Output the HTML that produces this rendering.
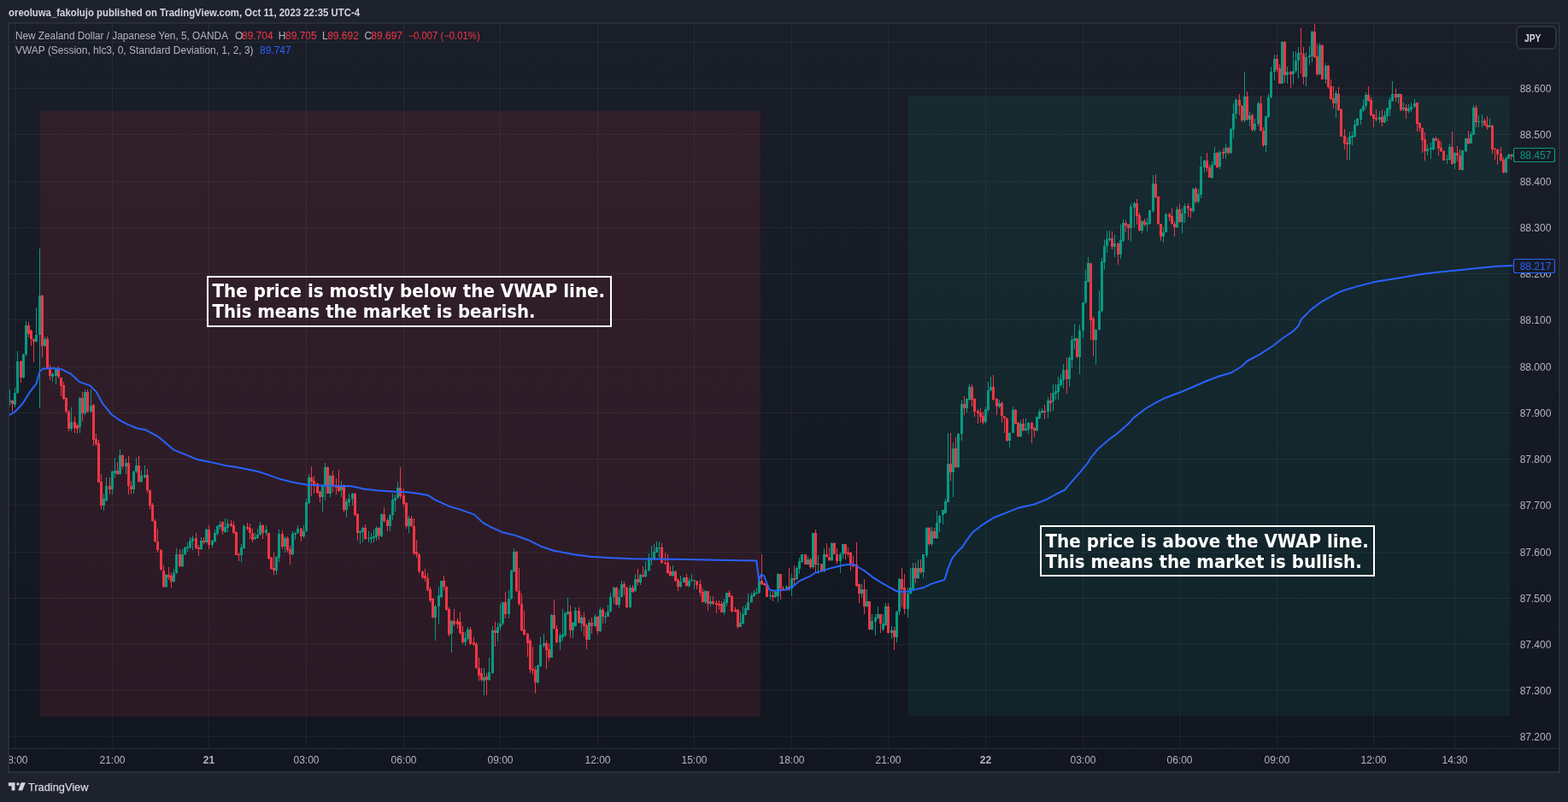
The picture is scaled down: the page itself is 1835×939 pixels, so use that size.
<!DOCTYPE html>
<html><head><meta charset="utf-8"><title>NZDJPY VWAP</title>
<style>
html,body{margin:0;padding:0;background:#1e222d;width:1835px;height:939px;overflow:hidden}
svg{position:absolute;left:0;top:0;display:block}
text{font-family:"Liberation Sans","DejaVu Sans",sans-serif}
</style></head><body>
<svg width="1835" height="939" viewBox="0 0 1835 939">

<text x="10" y="19.3" font-size="12.6" font-weight="bold" fill="#d1d4dc" textLength="411" lengthAdjust="spacingAndGlyphs">oreoluwa_fakolujo published on TradingView.com, Oct 11, 2023 22:35 UTC-4</text>
<defs><linearGradient id="bgg" x1="0" y1="28" x2="0" y2="903" gradientUnits="userSpaceOnUse"><stop offset="0" stop-color="#1a1e29"/><stop offset="1" stop-color="#121620"/></linearGradient></defs>
<rect x="9" y="26" width="1817" height="879" fill="#2a2e39"/>
<rect x="11" y="28" width="1813" height="875" fill="url(#bgg)"/>
<rect x="11" y="103" width="1760" height="1" fill="rgba(242,242,242,0.06)"/>
<rect x="11" y="157" width="1760" height="1" fill="rgba(242,242,242,0.06)"/>
<rect x="11" y="212" width="1760" height="1" fill="rgba(242,242,242,0.06)"/>
<rect x="11" y="266" width="1760" height="1" fill="rgba(242,242,242,0.06)"/>
<rect x="11" y="320" width="1760" height="1" fill="rgba(242,242,242,0.06)"/>
<rect x="11" y="374" width="1760" height="1" fill="rgba(242,242,242,0.06)"/>
<rect x="11" y="429" width="1760" height="1" fill="rgba(242,242,242,0.06)"/>
<rect x="11" y="483" width="1760" height="1" fill="rgba(242,242,242,0.06)"/>
<rect x="11" y="537" width="1760" height="1" fill="rgba(242,242,242,0.06)"/>
<rect x="11" y="591" width="1760" height="1" fill="rgba(242,242,242,0.06)"/>
<rect x="11" y="646" width="1760" height="1" fill="rgba(242,242,242,0.06)"/>
<rect x="11" y="700" width="1760" height="1" fill="rgba(242,242,242,0.06)"/>
<rect x="11" y="754" width="1760" height="1" fill="rgba(242,242,242,0.06)"/>
<rect x="11" y="808" width="1760" height="1" fill="rgba(242,242,242,0.06)"/>
<rect x="11" y="862" width="1760" height="1" fill="rgba(242,242,242,0.06)"/>
<rect x="11" y="49" width="1760" height="1" fill="rgba(242,242,242,0.06)"/>
<rect x="17" y="28" width="1" height="848" fill="rgba(242,242,242,0.06)"/>
<rect x="131" y="28" width="1" height="848" fill="rgba(242,242,242,0.06)"/>
<rect x="244" y="28" width="1" height="848" fill="rgba(242,242,242,0.06)"/>
<rect x="358" y="28" width="1" height="848" fill="rgba(242,242,242,0.06)"/>
<rect x="472" y="28" width="1" height="848" fill="rgba(242,242,242,0.06)"/>
<rect x="585" y="28" width="1" height="848" fill="rgba(242,242,242,0.06)"/>
<rect x="699" y="28" width="1" height="848" fill="rgba(242,242,242,0.06)"/>
<rect x="812" y="28" width="1" height="848" fill="rgba(242,242,242,0.06)"/>
<rect x="926" y="28" width="1" height="848" fill="rgba(242,242,242,0.06)"/>
<rect x="1039" y="28" width="1" height="848" fill="rgba(242,242,242,0.06)"/>
<rect x="1153" y="28" width="1" height="848" fill="rgba(242,242,242,0.06)"/>
<rect x="1267" y="28" width="1" height="848" fill="rgba(242,242,242,0.06)"/>
<rect x="1380" y="28" width="1" height="848" fill="rgba(242,242,242,0.06)"/>
<rect x="1494" y="28" width="1" height="848" fill="rgba(242,242,242,0.06)"/>
<rect x="1607" y="28" width="1" height="848" fill="rgba(242,242,242,0.06)"/>
<rect x="1702" y="28" width="1" height="848" fill="rgba(242,242,242,0.06)"/>
<rect x="11" y="876" width="1760" height="1" fill="#2a2e39"/>
<rect x="1772" y="876" width="52" height="1" fill="#2a2e39"/>
<rect x="47" y="130" width="843" height="709" fill="rgba(242,54,69,0.11)"/>
<rect x="1063" y="112" width="704" height="726" fill="rgba(8,153,129,0.10)"/>
<clipPath id="pclip"><rect x="11" y="28" width="1760" height="848"/></clipPath><g clip-path="url(#pclip)">
<path d="M11 456h1v19h-1zM17 454h1v23h-1zM20 411h1v50h-1zM27 414h1v29h-1zM30 376h1v41h-1zM42 360h1v41h-1zM46 291h1v187h-1zM52 394h1v12h-1zM61 436h1v11h-1zM65 431h1v19h-1zM83 477h1v28h-1zM93 465h1v42h-1zM99 456h1v30h-1zM106 456h1v27h-1zM121 578h1v20h-1zM124 559h1v28h-1zM131 551h1v28h-1zM134 536h1v23h-1zM140 526h1v30h-1zM147 537h1v18h-1zM156 551h1v27h-1zM159 536h1v18h-1zM165 551h1v14h-1zM169 545h1v15h-1zM194 672h1v16h-1zM203 666h1v16h-1zM206 642h1v30h-1zM213 643h1v21h-1zM216 640h1v10h-1zM219 635h1v11h-1zM222 629h1v14h-1zM225 627h1v17h-1zM235 629h1v15h-1zM241 618h1v18h-1zM248 632h1v9h-1zM251 620h1v15h-1zM254 615h1v12h-1zM257 610h1v10h-1zM263 607h1v17h-1zM266 608h1v15h-1zM282 637h1v21h-1zM285 614h1v29h-1zM298 624h1v8h-1zM301 619h1v12h-1zM304 611h1v16h-1zM311 615h1v12h-1zM323 651h1v22h-1zM326 620h1v38h-1zM333 628h1v19h-1zM342 622h1v28h-1zM345 623h1v9h-1zM348 615h1v10h-1zM355 615h1v15h-1zM358 584h1v39h-1zM361 555h1v35h-1zM377 567h1v32h-1zM380 542h1v44h-1zM386 556h1v26h-1zM399 563h1v19h-1zM405 584h1v22h-1zM408 578h1v15h-1zM412 577h1v15h-1zM421 621h1v16h-1zM424 617h1v18h-1zM431 622h1v13h-1zM434 624h1v12h-1zM437 620h1v15h-1zM440 616h1v17h-1zM446 601h1v28h-1zM456 602h1v20h-1zM459 578h1v31h-1zM462 579h1v20h-1zM465 564h1v20h-1zM478 604h1v20h-1zM509 708h1v42h-1zM513 687h1v44h-1zM516 680h1v20h-1zM528 726h1v38h-1zM544 740h1v16h-1zM547 734h1v16h-1zM566 782h1v32h-1zM572 770h1v27h-1zM576 733h1v56h-1zM582 729h1v22h-1zM585 707h1v31h-1zM588 705h1v27h-1zM595 691h1v33h-1zM598 667h1v35h-1zM601 642h1v28h-1zM629 778h1v23h-1zM632 746h1v35h-1zM636 742h1v16h-1zM645 719h1v51h-1zM655 741h1v20h-1zM658 713h1v37h-1zM661 716h1v30h-1zM664 700h1v20h-1zM670 728h1v19h-1zM673 711h1v23h-1zM680 720h1v19h-1zM689 726h1v23h-1zM696 719h1v15h-1zM702 711h1v29h-1zM708 717h1v13h-1zM711 708h1v14h-1zM714 694h1v23h-1zM718 687h1v20h-1zM724 690h1v22h-1zM727 680h1v19h-1zM737 685h1v27h-1zM743 672h1v21h-1zM749 672h1v13h-1zM755 657h1v19h-1zM759 648h1v21h-1zM762 639h1v23h-1zM765 637h1v19h-1zM768 634h1v13h-1zM771 634h1v19h-1zM787 662h1v13h-1zM796 674h1v14h-1zM800 676h1v6h-1zM806 677h1v11h-1zM809 672h1v9h-1zM812 679h1v11h-1zM825 691h1v16h-1zM831 698h1v12h-1zM847 701h1v19h-1zM850 694h1v16h-1zM866 716h1v18h-1zM869 710h1v21h-1zM872 708h1v12h-1zM875 695h1v20h-1zM879 694h1v12h-1zM882 691h1v8h-1zM885 688h1v8h-1zM888 679h1v16h-1zM901 692h1v10h-1zM907 692h1v8h-1zM910 671h1v34h-1zM920 685h1v5h-1zM926 671h1v27h-1zM932 663h1v16h-1zM935 653h1v19h-1zM938 649h1v10h-1zM945 651h1v10h-1zM951 624h1v42h-1zM957 650h1v22h-1zM964 642h1v28h-1zM973 635h1v22h-1zM983 647h1v24h-1zM986 637h1v17h-1zM1008 684h1v16h-1zM1014 690h1v21h-1zM1020 719h1v19h-1zM1024 719h1v25h-1zM1027 710h1v15h-1zM1033 719h1v20h-1zM1036 706h1v27h-1zM1043 733h1v15h-1zM1049 715h1v37h-1zM1052 677h1v43h-1zM1062 688h1v35h-1zM1065 665h1v31h-1zM1068 659h1v32h-1zM1074 655h1v23h-1zM1080 649h1v28h-1zM1084 617h1v36h-1zM1090 617h1v22h-1zM1096 598h1v33h-1zM1099 603h1v20h-1zM1103 597h1v17h-1zM1106 584h1v17h-1zM1109 507h1v81h-1zM1115 518h1v64h-1zM1121 507h1v41h-1zM1125 468h1v48h-1zM1131 466h1v17h-1zM1134 450h1v19h-1zM1153 476h1v20h-1zM1156 447h1v35h-1zM1159 441h1v17h-1zM1169 468h1v10h-1zM1181 506h1v18h-1zM1185 476h1v31h-1zM1194 492h1v20h-1zM1200 490h1v15h-1zM1203 494h1v14h-1zM1213 488h1v17h-1zM1216 479h1v12h-1zM1219 478h1v6h-1zM1226 465h1v25h-1zM1232 450h1v31h-1zM1235 450h1v18h-1zM1238 441h1v27h-1zM1241 438h1v15h-1zM1244 426h1v29h-1zM1251 417h1v36h-1zM1254 393h1v38h-1zM1257 379h1v30h-1zM1263 380h1v58h-1zM1267 354h1v42h-1zM1270 316h1v40h-1zM1273 301h1v30h-1zM1282 385h1v42h-1zM1286 340h1v47h-1zM1289 302h1v64h-1zM1292 281h1v35h-1zM1295 270h1v26h-1zM1298 270h1v13h-1zM1304 275h1v26h-1zM1311 263h1v40h-1zM1314 257h1v26h-1zM1323 238h1v45h-1zM1327 236h1v30h-1zM1336 258h1v15h-1zM1342 255h1v16h-1zM1345 246h1v17h-1zM1349 205h1v44h-1zM1361 266h1v18h-1zM1364 249h1v23h-1zM1377 242h1v25h-1zM1383 244h1v29h-1zM1386 238h1v23h-1zM1396 220h1v29h-1zM1402 221h1v17h-1zM1405 183h1v49h-1zM1409 187h1v15h-1zM1418 189h1v20h-1zM1421 172h1v22h-1zM1427 176h1v22h-1zM1434 168h1v18h-1zM1440 150h1v30h-1zM1443 121h1v41h-1zM1446 115h1v24h-1zM1456 84h1v59h-1zM1462 131h1v17h-1zM1468 139h1v15h-1zM1472 119h1v29h-1zM1481 136h1v42h-1zM1484 110h1v28h-1zM1487 78h1v37h-1zM1491 64h1v30h-1zM1500 48h1v50h-1zM1506 78h1v20h-1zM1513 60h1v39h-1zM1516 60h1v25h-1zM1519 55h1v37h-1zM1528 61h1v40h-1zM1532 54h1v22h-1zM1535 36h1v37h-1zM1544 50h1v38h-1zM1551 74h1v24h-1zM1563 106h1v32h-1zM1579 154h1v34h-1zM1582 154h1v16h-1zM1585 140h1v21h-1zM1588 138h1v9h-1zM1592 127h1v19h-1zM1595 116h1v15h-1zM1598 108h1v20h-1zM1614 130h1v14h-1zM1620 130h1v14h-1zM1623 126h1v16h-1zM1626 114h1v22h-1zM1629 95h1v24h-1zM1636 109h1v12h-1zM1642 120h1v10h-1zM1648 122h1v10h-1zM1651 120h1v11h-1zM1655 116h1v10h-1zM1670 169h1v13h-1zM1674 167h1v19h-1zM1677 161h1v15h-1zM1693 181h1v11h-1zM1696 168h1v20h-1zM1702 178h1v20h-1zM1711 176h1v24h-1zM1715 162h1v16h-1zM1721 154h1v14h-1zM1724 123h1v35h-1zM1730 135h1v14h-1zM1734 134h1v15h-1zM1743 139h1v10h-1zM1762 183h1v20h-1zM1765 180h1v6h-1z" fill="#089981" shape-rendering="crispEdges"/>
<path d="M14 468h1v14h-1zM24 422h1v26h-1zM33 377h1v18h-1zM36 386h1v19h-1zM39 396h1v28h-1zM49 345h1v73h-1zM55 394h1v38h-1zM58 427h1v18h-1zM68 429h1v14h-1zM71 442h1v22h-1zM74 447h1v21h-1zM77 465h1v19h-1zM80 480h1v25h-1zM87 488h1v19h-1zM90 496h1v11h-1zM96 459h1v34h-1zM102 456h1v27h-1zM109 473h1v49h-1zM112 508h1v14h-1zM115 515h1v50h-1zM118 555h1v41h-1zM128 559h1v20h-1zM137 541h1v15h-1zM143 532h1v17h-1zM150 534h1v45h-1zM153 563h1v15h-1zM162 534h1v31h-1zM172 549h1v28h-1zM175 573h1v23h-1zM178 589h1v22h-1zM181 608h1v27h-1zM184 619h1v28h-1zM188 643h1v25h-1zM191 662h1v26h-1zM197 664h1v15h-1zM200 670h1v18h-1zM210 643h1v21h-1zM229 624h1v19h-1zM232 638h1v13h-1zM238 629h1v8h-1zM244 615h1v28h-1zM260 610h1v16h-1zM270 609h1v8h-1zM273 610h1v15h-1zM276 622h1v28h-1zM279 647h1v10h-1zM289 612h1v9h-1zM292 613h1v18h-1zM295 619h1v16h-1zM307 614h1v17h-1zM314 624h1v31h-1zM317 652h1v15h-1zM320 647h1v26h-1zM330 621h1v22h-1zM336 628h1v19h-1zM339 639h1v22h-1zM352 618h1v16h-1zM364 546h1v35h-1zM367 557h1v21h-1zM371 565h1v13h-1zM374 574h1v14h-1zM383 546h1v32h-1zM389 551h1v25h-1zM393 560h1v19h-1zM396 550h1v26h-1zM402 567h1v33h-1zM415 577h1v27h-1zM418 601h1v32h-1zM427 614h1v18h-1zM443 617h1v15h-1zM449 594h1v18h-1zM453 607h1v15h-1zM468 547h1v37h-1zM472 572h1v21h-1zM475 588h1v31h-1zM481 604h1v13h-1zM484 607h1v43h-1zM487 632h1v21h-1zM490 648h1v23h-1zM494 668h1v10h-1zM497 666h1v15h-1zM500 671h1v21h-1zM503 687h1v18h-1zM506 700h1v24h-1zM519 674h1v17h-1zM522 686h1v29h-1zM525 711h1v34h-1zM531 713h1v20h-1zM535 724h1v12h-1zM538 717h1v26h-1zM541 733h1v21h-1zM550 734h1v21h-1zM554 746h1v10h-1zM557 752h1v31h-1zM560 770h1v27h-1zM563 782h1v16h-1zM569 788h1v26h-1zM579 728h1v29h-1zM591 693h1v31h-1zM604 645h1v48h-1zM607 665h1v44h-1zM610 695h1v44h-1zM613 715h1v29h-1zM617 741h1v28h-1zM620 748h1v40h-1zM623 757h1v33h-1zM626 780h1v32h-1zM639 750h1v33h-1zM642 753h1v21h-1zM648 702h1v35h-1zM651 732h1v21h-1zM667 709h1v38h-1zM677 711h1v19h-1zM683 717h1v28h-1zM686 730h1v30h-1zM692 723h1v19h-1zM699 721h1v22h-1zM705 712h1v18h-1zM721 687h1v22h-1zM730 681h1v16h-1zM733 687h1v25h-1zM740 685h1v9h-1zM746 666h1v19h-1zM752 663h1v13h-1zM774 636h1v24h-1zM778 647h1v14h-1zM781 649h1v23h-1zM784 663h1v12h-1zM790 668h1v13h-1zM793 677h1v15h-1zM803 672h1v15h-1zM815 680h1v10h-1zM819 679h1v19h-1zM822 689h1v16h-1zM828 692h1v23h-1zM834 698h1v10h-1zM838 703h1v15h-1zM841 703h1v11h-1zM844 704h1v13h-1zM853 691h1v8h-1zM856 697h1v20h-1zM860 711h1v6h-1zM863 713h1v23h-1zM891 649h1v36h-1zM894 682h1v4h-1zM897 683h1v16h-1zM904 691h1v13h-1zM913 672h1v30h-1zM916 686h1v5h-1zM923 665h1v27h-1zM929 662h1v24h-1zM942 649h1v12h-1zM948 653h1v13h-1zM954 620h1v50h-1zM961 660h1v10h-1zM967 636h1v17h-1zM970 641h1v16h-1zM976 635h1v14h-1zM979 642h1v18h-1zM989 637h1v18h-1zM992 641h1v11h-1zM995 646h1v22h-1zM998 651h1v13h-1zM1002 635h1v52h-1zM1005 683h1v23h-1zM1011 678h1v41h-1zM1017 704h1v34h-1zM1030 719h1v22h-1zM1039 706h1v36h-1zM1046 734h1v27h-1zM1055 665h1v46h-1zM1058 672h1v47h-1zM1071 659h1v24h-1zM1077 655h1v17h-1zM1087 617h1v22h-1zM1093 618h1v13h-1zM1112 507h1v56h-1zM1118 512h1v36h-1zM1128 464h1v22h-1zM1137 450h1v26h-1zM1140 466h1v22h-1zM1144 479h1v17h-1zM1147 478h1v17h-1zM1150 482h1v15h-1zM1162 439h1v30h-1zM1166 466h1v20h-1zM1172 470h1v25h-1zM1175 487h1v20h-1zM1178 489h1v28h-1zM1188 479h1v18h-1zM1191 494h1v18h-1zM1197 490h1v15h-1zM1207 494h1v25h-1zM1210 500h1v12h-1zM1222 474h1v17h-1zM1229 460h1v22h-1zM1248 419h1v42h-1zM1260 396h1v23h-1zM1276 308h1v90h-1zM1279 371h1v46h-1zM1301 271h1v21h-1zM1308 284h1v26h-1zM1317 258h1v14h-1zM1320 262h1v19h-1zM1330 233h1v30h-1zM1333 249h1v22h-1zM1339 256h1v9h-1zM1352 204h1v28h-1zM1355 230h1v33h-1zM1358 262h1v20h-1zM1368 249h1v10h-1zM1371 244h1v19h-1zM1374 259h1v18h-1zM1380 239h1v22h-1zM1390 238h1v16h-1zM1393 243h1v12h-1zM1399 219h1v19h-1zM1412 179h1v22h-1zM1415 193h1v15h-1zM1424 178h1v19h-1zM1431 173h1v13h-1zM1437 172h1v9h-1zM1450 110h1v25h-1zM1453 123h1v20h-1zM1459 107h1v34h-1zM1465 133h1v21h-1zM1475 112h1v42h-1zM1478 149h1v23h-1zM1494 64h1v21h-1zM1497 75h1v23h-1zM1503 48h1v49h-1zM1510 83h1v20h-1zM1522 33h1v53h-1zM1525 55h1v44h-1zM1538 28h1v40h-1zM1541 51h1v38h-1zM1547 52h1v41h-1zM1554 76h1v28h-1zM1557 93h1v24h-1zM1560 101h1v26h-1zM1566 102h1v28h-1zM1569 127h1v33h-1zM1573 151h1v24h-1zM1576 161h1v26h-1zM1601 101h1v18h-1zM1604 114h1v22h-1zM1607 133h1v16h-1zM1610 128h1v14h-1zM1617 128h1v20h-1zM1633 104h1v15h-1zM1639 110h1v20h-1zM1645 122h1v17h-1zM1658 120h1v34h-1zM1661 143h1v11h-1zM1664 149h1v30h-1zM1667 155h1v33h-1zM1680 160h1v5h-1zM1683 162h1v20h-1zM1686 165h1v13h-1zM1689 176h1v12h-1zM1699 154h1v39h-1zM1705 171h1v18h-1zM1708 175h1v24h-1zM1718 153h1v16h-1zM1727 123h1v26h-1zM1737 139h1v8h-1zM1740 136h1v16h-1zM1746 146h1v34h-1zM1749 173h1v14h-1zM1752 174h1v19h-1zM1756 172h1v17h-1zM1759 184h1v19h-1zM1768 180h1v7h-1z" fill="#f23645" shape-rendering="crispEdges"/>
<path d="M10 469h3v2h-3zM16 460h3v14h-3zM19 423h3v37h-3zM26 415h3v27h-3zM29 381h3v34h-3zM41 392h3v8h-3zM45 346h3v46h-3zM51 397h3v8h-3zM60 438h3v3h-3zM64 432h3v8h-3zM82 494h3v8h-3zM92 466h3v34h-3zM98 459h3v25h-3zM105 475h3v7h-3zM120 584h3v8h-3zM123 569h3v17h-3zM130 552h3v21h-3zM133 551h3v3h-3zM139 533h3v22h-3zM146 542h3v4h-3zM155 552h3v21h-3zM158 545h3v7h-3zM164 557h3v7h-3zM168 556h3v3h-3zM193 673h3v14h-3zM202 671h3v10h-3zM205 649h3v22h-3zM212 649h3v14h-3zM215 641h3v8h-3zM218 640h3v2h-3zM221 633h3v8h-3zM224 630h3v4h-3zM234 633h3v10h-3zM240 620h3v15h-3zM247 633h3v5h-3zM250 624h3v10h-3zM253 616h3v9h-3zM256 614h3v3h-3zM262 617h3v6h-3zM265 613h3v5h-3zM281 641h3v9h-3zM284 616h3v26h-3zM297 629h3v2h-3zM300 626h3v4h-3zM303 615h3v11h-3zM310 620h3v4h-3zM322 652h3v16h-3zM325 625h3v28h-3zM332 630h3v10h-3zM341 625h3v24h-3zM344 624h3v2h-3zM347 619h3v5h-3zM354 622h3v6h-3zM357 588h3v34h-3zM360 559h3v30h-3zM376 568h3v14h-3zM379 547h3v21h-3zM385 557h3v21h-3zM398 568h3v6h-3zM404 587h3v10h-3zM407 584h3v4h-3zM411 578h3v6h-3zM420 622h3v2h-3zM423 618h3v5h-3zM430 630h3v1h-3zM433 629h3v2h-3zM436 628h3v2h-3zM439 618h3v11h-3zM445 602h3v26h-3zM455 603h3v13h-3zM458 585h3v18h-3zM461 583h3v3h-3zM464 571h3v12h-3zM477 607h3v9h-3zM508 710h3v13h-3zM512 697h3v13h-3zM515 680h3v19h-3zM527 727h3v15h-3zM543 747h3v5h-3zM546 737h3v11h-3zM565 793h3v4h-3zM571 787h3v9h-3zM575 738h3v50h-3zM581 734h3v7h-3zM584 730h3v4h-3zM587 705h3v25h-3zM594 701h3v18h-3zM597 668h3v33h-3zM600 646h3v23h-3zM628 779h3v20h-3zM631 755h3v25h-3zM635 753h3v3h-3zM644 720h3v50h-3zM654 744h3v8h-3zM657 743h3v3h-3zM660 718h3v26h-3zM663 716h3v3h-3zM669 729h3v9h-3zM672 715h3v18h-3zM679 723h3v7h-3zM688 729h3v20h-3zM695 722h3v11h-3zM701 714h3v25h-3zM707 722h3v1h-3zM710 716h3v6h-3zM713 699h3v17h-3zM717 688h3v11h-3zM723 699h3v9h-3zM726 684h3v15h-3zM736 688h3v23h-3zM742 678h3v14h-3zM748 673h3v9h-3zM754 667h3v8h-3zM758 653h3v15h-3zM761 653h3v2h-3zM764 646h3v9h-3zM767 641h3v6h-3zM770 641h3v1h-3zM786 669h3v5h-3zM795 681h3v6h-3zM799 676h3v6h-3zM805 680h3v6h-3zM808 679h3v1h-3zM811 679h3v1h-3zM824 692h3v13h-3zM830 704h3v3h-3zM846 705h3v12h-3zM849 694h3v12h-3zM865 729h3v5h-3zM868 719h3v11h-3zM871 712h3v8h-3zM874 705h3v9h-3zM878 697h3v8h-3zM881 694h3v4h-3zM884 694h3v1h-3zM887 680h3v14h-3zM900 697h3v1h-3zM906 693h3v6h-3zM909 672h3v26h-3zM919 687h3v2h-3zM925 677h3v12h-3zM931 665h3v13h-3zM934 657h3v9h-3zM937 649h3v9h-3zM944 655h3v6h-3zM950 624h3v40h-3zM956 660h3v1h-3zM963 649h3v20h-3zM972 636h3v20h-3zM982 649h3v8h-3zM985 637h3v12h-3zM1007 690h3v5h-3zM1013 704h3v6h-3zM1019 727h3v10h-3zM1023 723h3v5h-3zM1026 719h3v5h-3zM1032 730h3v7h-3zM1035 710h3v22h-3zM1042 738h3v3h-3zM1048 716h3v30h-3zM1051 678h3v38h-3zM1061 695h3v18h-3zM1064 688h3v7h-3zM1067 665h3v25h-3zM1073 665h3v12h-3zM1079 649h3v21h-3zM1083 618h3v32h-3zM1089 622h3v15h-3zM1095 612h3v18h-3zM1098 604h3v8h-3zM1102 597h3v6h-3zM1105 587h3v14h-3zM1108 543h3v45h-3zM1114 525h3v28h-3zM1120 508h3v39h-3zM1124 473h3v35h-3zM1130 467h3v11h-3zM1133 453h3v15h-3zM1152 479h3v15h-3zM1155 457h3v23h-3zM1158 453h3v4h-3zM1168 472h3v4h-3zM1180 507h3v9h-3zM1184 480h3v27h-3zM1193 496h3v15h-3zM1199 502h3v2h-3zM1202 495h3v8h-3zM1212 488h3v16h-3zM1215 482h3v8h-3zM1218 481h3v2h-3zM1225 469h3v13h-3zM1231 460h3v10h-3zM1234 458h3v3h-3zM1237 450h3v9h-3zM1240 444h3v7h-3zM1243 433h3v12h-3zM1250 419h3v25h-3zM1253 398h3v23h-3zM1256 396h3v3h-3zM1262 387h3v31h-3zM1266 354h3v33h-3zM1269 329h3v25h-3zM1272 308h3v22h-3zM1281 386h3v12h-3zM1285 364h3v22h-3zM1288 306h3v58h-3zM1291 288h3v19h-3zM1294 280h3v8h-3zM1297 279h3v2h-3zM1303 285h3v4h-3zM1310 281h3v17h-3zM1313 261h3v21h-3zM1322 242h3v25h-3zM1326 238h3v5h-3zM1335 259h3v11h-3zM1341 261h3v2h-3zM1344 246h3v16h-3zM1348 215h3v32h-3zM1360 272h3v5h-3zM1363 251h3v21h-3zM1376 245h3v21h-3zM1382 250h3v10h-3zM1385 241h3v9h-3zM1395 221h3v26h-3zM1401 227h3v9h-3zM1404 195h3v33h-3zM1408 188h3v8h-3zM1417 193h3v15h-3zM1420 179h3v14h-3zM1426 178h3v17h-3zM1433 173h3v6h-3zM1439 151h3v28h-3zM1442 133h3v19h-3zM1445 117h3v16h-3zM1455 113h3v28h-3zM1461 135h3v5h-3zM1467 145h3v7h-3zM1471 121h3v24h-3zM1480 136h3v34h-3zM1483 114h3v23h-3zM1486 84h3v30h-3zM1490 69h3v15h-3zM1499 49h3v49h-3zM1505 84h3v4h-3zM1512 83h3v4h-3zM1515 71h3v12h-3zM1518 62h3v9h-3zM1527 67h3v23h-3zM1531 65h3v2h-3zM1534 37h3v29h-3zM1543 53h3v34h-3zM1550 77h3v16h-3zM1562 109h3v12h-3zM1578 160h3v9h-3zM1581 159h3v2h-3zM1584 146h3v14h-3zM1587 139h3v8h-3zM1591 128h3v12h-3zM1594 124h3v5h-3zM1597 111h3v13h-3zM1613 137h3v3h-3zM1619 135h3v8h-3zM1622 127h3v9h-3zM1625 117h3v11h-3zM1628 110h3v8h-3zM1635 110h3v4h-3zM1641 126h3v2h-3zM1647 127h3v3h-3zM1650 125h3v3h-3zM1654 121h3v4h-3zM1669 174h3v3h-3zM1673 173h3v2h-3zM1676 162h3v13h-3zM1692 186h3v1h-3zM1695 172h3v15h-3zM1701 179h3v12h-3zM1710 176h3v23h-3zM1714 162h3v15h-3zM1720 157h3v11h-3zM1723 126h3v32h-3zM1729 142h3v1h-3zM1733 142h3v1h-3zM1742 147h3v2h-3zM1761 185h3v17h-3zM1764 181h3v5h-3z" fill="#089981" shape-rendering="crispEdges"/>
<path d="M13 469h3v4h-3zM23 423h3v19h-3zM32 381h3v10h-3zM35 387h3v10h-3zM38 397h3v3h-3zM48 346h3v59h-3zM54 397h3v34h-3zM57 431h3v9h-3zM67 431h3v10h-3zM70 442h3v10h-3zM73 451h3v16h-3zM76 466h3v16h-3zM79 482h3v20h-3zM86 494h3v7h-3zM89 498h3v4h-3zM95 466h3v18h-3zM101 459h3v23h-3zM108 474h3v41h-3zM111 514h3v6h-3zM114 519h3v46h-3zM117 564h3v28h-3zM127 569h3v4h-3zM136 551h3v4h-3zM142 533h3v13h-3zM149 542h3v27h-3zM152 569h3v4h-3zM161 545h3v19h-3zM171 556h3v18h-3zM174 574h3v18h-3zM177 591h3v19h-3zM180 610h3v24h-3zM183 634h3v10h-3zM187 644h3v23h-3zM190 668h3v19h-3zM196 673h3v3h-3zM199 674h3v7h-3zM209 649h3v14h-3zM228 630h3v12h-3zM231 641h3v2h-3zM237 633h3v2h-3zM243 620h3v18h-3zM259 611h3v11h-3zM269 613h3v3h-3zM272 615h3v9h-3zM275 623h3v27h-3zM278 649h3v1h-3zM288 617h3v2h-3zM291 618h3v6h-3zM294 624h3v8h-3zM306 615h3v9h-3zM313 624h3v30h-3zM316 653h3v13h-3zM319 665h3v3h-3zM329 625h3v15h-3zM335 630h3v14h-3zM338 643h3v6h-3zM351 619h3v9h-3zM363 559h3v5h-3zM366 563h3v5h-3zM370 566h3v11h-3zM373 576h3v6h-3zM382 547h3v31h-3zM388 557h3v12h-3zM392 569h3v2h-3zM395 570h3v5h-3zM401 568h3v29h-3zM414 578h3v25h-3zM417 602h3v22h-3zM426 618h3v13h-3zM442 618h3v9h-3zM448 602h3v8h-3zM452 609h3v7h-3zM467 571h3v10h-3zM471 580h3v10h-3zM474 589h3v27h-3zM480 607h3v9h-3zM483 616h3v32h-3zM486 646h3v3h-3zM489 649h3v20h-3zM493 669h3v7h-3zM496 674h3v3h-3zM499 677h3v14h-3zM502 690h3v13h-3zM505 701h3v22h-3zM518 680h3v7h-3zM521 687h3v27h-3zM524 713h3v30h-3zM530 727h3v4h-3zM534 727h3v4h-3zM537 728h3v13h-3zM540 740h3v12h-3zM549 737h3v17h-3zM553 752h3v3h-3zM556 754h3v28h-3zM559 782h3v9h-3zM562 788h3v8h-3zM568 792h3v4h-3zM578 738h3v3h-3zM590 705h3v14h-3zM603 646h3v46h-3zM606 692h3v15h-3zM609 707h3v31h-3zM612 737h3v6h-3zM616 742h3v11h-3zM619 750h3v34h-3zM622 783h3v2h-3zM625 784h3v15h-3zM638 753h3v8h-3zM641 760h3v10h-3zM647 720h3v16h-3zM650 736h3v16h-3zM666 716h3v22h-3zM676 715h3v14h-3zM682 723h3v10h-3zM685 732h3v17h-3zM691 729h3v4h-3zM698 722h3v17h-3zM704 714h3v8h-3zM720 688h3v20h-3zM729 684h3v4h-3zM732 688h3v23h-3zM739 688h3v5h-3zM745 678h3v4h-3zM751 673h3v2h-3zM773 641h3v18h-3zM777 659h3v1h-3zM780 659h3v12h-3zM783 669h3v5h-3zM789 669h3v11h-3zM792 679h3v8h-3zM802 676h3v10h-3zM814 680h3v5h-3zM818 684h3v10h-3zM821 693h3v12h-3zM827 692h3v15h-3zM833 704h3v3h-3zM837 706h3v2h-3zM840 707h3v2h-3zM843 707h3v10h-3zM852 694h3v5h-3zM855 698h3v18h-3zM859 714h3v2h-3zM862 714h3v20h-3zM890 680h3v4h-3zM893 683h3v2h-3zM896 684h3v15h-3zM903 697h3v2h-3zM912 672h3v17h-3zM915 689h3v1h-3zM922 687h3v2h-3zM928 677h3v2h-3zM941 649h3v12h-3zM947 655h3v9h-3zM953 624h3v37h-3zM960 660h3v9h-3zM966 649h3v3h-3zM969 652h3v4h-3zM975 636h3v13h-3zM978 649h3v8h-3zM988 637h3v11h-3zM991 647h3v2h-3zM994 647h3v14h-3zM997 661h3v2h-3zM1001 661h3v25h-3zM1004 684h3v11h-3zM1010 690h3v20h-3zM1016 704h3v33h-3zM1029 719h3v11h-3zM1038 710h3v31h-3zM1045 738h3v8h-3zM1054 678h3v12h-3zM1057 688h3v25h-3zM1070 665h3v12h-3zM1076 665h3v5h-3zM1086 618h3v19h-3zM1092 622h3v8h-3zM1111 543h3v10h-3zM1117 525h3v22h-3zM1127 473h3v5h-3zM1136 453h3v15h-3zM1139 467h3v15h-3zM1143 481h3v3h-3zM1146 483h3v5h-3zM1149 487h3v7h-3zM1161 453h3v15h-3zM1165 467h3v9h-3zM1171 472h3v15h-3zM1174 487h3v3h-3zM1177 490h3v26h-3zM1187 480h3v16h-3zM1190 495h3v16h-3zM1196 496h3v8h-3zM1206 495h3v7h-3zM1209 501h3v3h-3zM1221 481h3v2h-3zM1228 469h3v3h-3zM1247 433h3v11h-3zM1259 396h3v22h-3zM1275 308h3v67h-3zM1278 373h3v25h-3zM1300 279h3v10h-3zM1307 285h3v13h-3zM1316 261h3v3h-3zM1319 263h3v4h-3zM1329 238h3v15h-3zM1332 252h3v18h-3zM1338 259h3v4h-3zM1351 215h3v16h-3zM1354 230h3v32h-3zM1357 262h3v15h-3zM1367 251h3v3h-3zM1370 253h3v9h-3zM1373 262h3v4h-3zM1379 245h3v15h-3zM1389 241h3v3h-3zM1392 244h3v3h-3zM1398 221h3v15h-3zM1411 188h3v9h-3zM1414 196h3v12h-3zM1423 179h3v17h-3zM1430 178h3v2h-3zM1436 173h3v6h-3zM1449 117h3v7h-3zM1452 124h3v17h-3zM1458 113h3v27h-3zM1464 135h3v17h-3zM1474 121h3v32h-3zM1477 153h3v17h-3zM1493 69h3v12h-3zM1496 80h3v18h-3zM1502 49h3v39h-3zM1509 84h3v3h-3zM1521 62h3v1h-3zM1524 63h3v27h-3zM1537 37h3v30h-3zM1540 66h3v21h-3zM1546 53h3v40h-3zM1553 77h3v25h-3zM1556 101h3v15h-3zM1559 115h3v6h-3zM1565 110h3v19h-3zM1568 128h3v32h-3zM1572 159h3v9h-3zM1575 167h3v2h-3zM1600 111h3v7h-3zM1603 117h3v18h-3zM1606 134h3v5h-3zM1609 138h3v2h-3zM1616 137h3v6h-3zM1632 110h3v4h-3zM1638 110h3v19h-3zM1644 126h3v4h-3zM1657 120h3v25h-3zM1660 144h3v6h-3zM1663 150h3v14h-3zM1666 163h3v14h-3zM1679 162h3v3h-3zM1682 165h3v9h-3zM1685 173h3v4h-3zM1688 177h3v11h-3zM1698 172h3v20h-3zM1704 179h3v3h-3zM1707 182h3v17h-3zM1717 162h3v6h-3zM1726 126h3v17h-3zM1736 141h3v6h-3zM1739 146h3v3h-3zM1745 147h3v28h-3zM1748 174h3v1h-3zM1751 175h3v6h-3zM1755 180h3v8h-3zM1758 187h3v15h-3zM1767 181h3v2h-3z" fill="#f23645" shape-rendering="crispEdges"/>
<polyline points="10.0,486.5 17.5,482.2 26.3,472.7 35.1,458.9 42.6,448.9 46.4,435.1 50.1,431.8 62.7,431.1 72.7,432.6 82.7,437.6 92.8,447.1 105.3,451.4 112.8,458.9 120.3,472.7 130.4,485.2 140.4,492.3 150.4,497.3 160.4,501.5 170.5,503.3 185.5,511.6 203.1,526.6 215.6,531.6 230.6,537.9 245.7,540.9 263.2,544.9 275.8,546.7 300.8,551.7 310.9,554.9 325.9,560.4 340.9,564.2 358.5,567.5 376.0,568.5 411.1,569.2 426.2,572.5 441.2,574.2 460.1,575.5 477.6,576.3 490.1,578.0 501.4,580.1 508.9,585.1 526.5,593.1 540.3,597.1 555.3,602.6 565.3,612.1 575.4,617.7 587.9,623.2 603.0,626.9 618.0,632.2 633.0,639.7 648.1,644.7 670.6,649.0 690.7,651.8 715.8,653.3 740.8,654.3 791.0,654.8 841.1,655.8 885.2,656.4 888.2,679.5 890.9,672.7 894.3,674.7 897.7,683.6 900.4,690.4 905.9,691.8 912.7,691.1 920.9,690.4 927.7,687.0 934.5,680.9 939.9,678.1 948.1,674.7 953.6,670.7 961.7,668.6 969.9,665.9 978.1,663.8 986.3,661.8 994.4,660.7 999.9,661.1 1005.3,664.5 1012.2,668.6 1021.7,676.1 1032.6,682.9 1043.5,689.0 1050.3,692.5 1057.1,692.9 1062.6,692.5 1070.7,690.4 1081.6,687.7 1089.8,683.6 1098.0,681.1 1105.5,678.8 1108.9,667.2 1114.3,653.6 1119.8,646.8 1126.6,640.0 1129.8,634.7 1138.8,622.7 1150.7,613.8 1162.6,606.3 1177.5,600.4 1192.4,594.4 1210.3,590.5 1225.2,584.6 1234.2,579.5 1246.1,573.5 1255.0,563.1 1265.5,551.2 1272.9,542.2 1277.4,534.8 1284.9,525.8 1296.8,515.4 1308.7,506.5 1320.6,496.0 1326.6,489.2 1340.6,478.5 1351.3,472.1 1364.1,465.7 1381.1,459.3 1393.9,454.0 1410.9,446.5 1425.8,440.8 1440.7,436.5 1452.4,429.5 1459.9,422.5 1474.8,414.6 1489.7,405.0 1500.4,396.5 1513.1,388.0 1519.5,381.6 1522.7,374.1 1534.4,362.4 1547.2,352.8 1560.0,345.8 1568.6,341.3 1588.8,335.1 1609.0,330.0 1635.4,325.8 1661.8,321.2 1682.0,318.8 1705.3,316.5 1728.6,313.9 1751.9,311.8 1770.5,311.1" fill="none" stroke="#2962ff" stroke-width="2" stroke-linejoin="round"/>
</g>
<rect x="243" y="324" width="472" height="58" fill="none" stroke="#ffffff" stroke-width="2"/>
<text x="248.5" y="348" style="font-family:'DejaVu Sans',sans-serif" font-size="20.5" font-weight="bold" fill="#ffffff" lengthAdjust="spacingAndGlyphs" textLength="459.7">The price is mostly below the VWAP line.</text>
<text x="248.5" y="372" style="font-family:'DejaVu Sans',sans-serif" font-size="20.5" font-weight="bold" fill="#ffffff" lengthAdjust="spacingAndGlyphs" textLength="378">This means the market is bearish.</text>
<rect x="1218" y="616" width="390" height="58" fill="none" stroke="#ffffff" stroke-width="2"/>
<text x="1223.4" y="640.5" style="font-family:'DejaVu Sans',sans-serif" font-size="20.5" font-weight="bold" fill="#ffffff" lengthAdjust="spacingAndGlyphs" textLength="378.5">The price is above the VWAP line.</text>
<text x="1223.4" y="664.5" style="font-family:'DejaVu Sans',sans-serif" font-size="20.5" font-weight="bold" fill="#ffffff" lengthAdjust="spacingAndGlyphs" textLength="370.3">This means the market is bullish.</text>
<text x="1797" y="108.0" font-size="12" fill="#b2b5be" text-anchor="middle">88.600</text>
<text x="1797" y="162.0" font-size="12" fill="#b2b5be" text-anchor="middle">88.500</text>
<text x="1797" y="217.0" font-size="12" fill="#b2b5be" text-anchor="middle">88.400</text>
<text x="1797" y="271.0" font-size="12" fill="#b2b5be" text-anchor="middle">88.300</text>
<text x="1797" y="325.0" font-size="12" fill="#b2b5be" text-anchor="middle">88.200</text>
<text x="1797" y="379.0" font-size="12" fill="#b2b5be" text-anchor="middle">88.100</text>
<text x="1797" y="434.0" font-size="12" fill="#b2b5be" text-anchor="middle">88.000</text>
<text x="1797" y="488.0" font-size="12" fill="#b2b5be" text-anchor="middle">87.900</text>
<text x="1797" y="542.0" font-size="12" fill="#b2b5be" text-anchor="middle">87.800</text>
<text x="1797" y="596.0" font-size="12" fill="#b2b5be" text-anchor="middle">87.700</text>
<text x="1797" y="651.0" font-size="12" fill="#b2b5be" text-anchor="middle">87.600</text>
<text x="1797" y="705.0" font-size="12" fill="#b2b5be" text-anchor="middle">87.500</text>
<text x="1797" y="759.0" font-size="12" fill="#b2b5be" text-anchor="middle">87.400</text>
<text x="1797" y="813.0" font-size="12" fill="#b2b5be" text-anchor="middle">87.300</text>
<text x="1797" y="867.0" font-size="12" fill="#b2b5be" text-anchor="middle">87.200</text>
<path d="M1768.5 182L1771.5 179.5V184.5Z" fill="#089981"/>
<rect x="1771.5" y="173.5" width="48" height="16" rx="2" fill="#171b25" stroke="#089981" stroke-width="1.2"/>
<text x="1797" y="186" font-size="12" fill="#089981" text-anchor="middle">88.457</text>
<rect x="1771.5" y="303.5" width="48" height="16" rx="2" fill="#171b25" stroke="#2962ff" stroke-width="1.2"/>
<text x="1797" y="316" font-size="12" fill="#2962ff" text-anchor="middle">88.217</text>
<rect x="1775" y="31" width="46" height="26" rx="5" fill="#131722" stroke="#2e3240" stroke-width="2"/>
<text x="1784" y="49" font-size="12.6" font-weight="bold" fill="#d1d4dc" textLength="19.5" lengthAdjust="spacingAndGlyphs">JPY</text>
<clipPath id="tclip"><rect x="11" y="877" width="1760" height="26"/></clipPath><g clip-path="url(#tclip)">
<text x="17.5" y="894" font-size="12" fill="#b2b5be" text-anchor="middle">18:00</text>
<text x="131.5" y="894" font-size="12" fill="#b2b5be" text-anchor="middle">21:00</text>
<text x="244.5" y="894" font-size="12" fill="#b2b5be" text-anchor="middle" font-weight="bold">21</text>
<text x="358.5" y="894" font-size="12" fill="#b2b5be" text-anchor="middle">03:00</text>
<text x="472.5" y="894" font-size="12" fill="#b2b5be" text-anchor="middle">06:00</text>
<text x="585.5" y="894" font-size="12" fill="#b2b5be" text-anchor="middle">09:00</text>
<text x="699.5" y="894" font-size="12" fill="#b2b5be" text-anchor="middle">12:00</text>
<text x="812.5" y="894" font-size="12" fill="#b2b5be" text-anchor="middle">15:00</text>
<text x="926.5" y="894" font-size="12" fill="#b2b5be" text-anchor="middle">18:00</text>
<text x="1039.5" y="894" font-size="12" fill="#b2b5be" text-anchor="middle">21:00</text>
<text x="1153.5" y="894" font-size="12" fill="#b2b5be" text-anchor="middle" font-weight="bold">22</text>
<text x="1267.5" y="894" font-size="12" fill="#b2b5be" text-anchor="middle">03:00</text>
<text x="1380.5" y="894" font-size="12" fill="#b2b5be" text-anchor="middle">06:00</text>
<text x="1494.5" y="894" font-size="12" fill="#b2b5be" text-anchor="middle">09:00</text>
<text x="1607.5" y="894" font-size="12" fill="#b2b5be" text-anchor="middle">12:00</text>
<text x="1702.5" y="894" font-size="12" fill="#b2b5be" text-anchor="middle">14:30</text>
</g>
<text x="18" y="46" font-size="12" fill="#b2b5be" textLength="249" lengthAdjust="spacingAndGlyphs">New Zealand Dollar / Japanese Yen, 5, OANDA</text>
<text x="275" y="46" font-size="12" fill="#b2b5be">O</text>
<text x="283" y="46" font-size="12" fill="#f23645">89.704</text>
<text x="325.7" y="46" font-size="12" fill="#b2b5be">H</text>
<text x="334" y="46" font-size="12" fill="#f23645">89.705</text>
<text x="377" y="46" font-size="12" fill="#b2b5be">L</text>
<text x="383.2" y="46" font-size="12" fill="#f23645">89.692</text>
<text x="426.5" y="46" font-size="12" fill="#b2b5be">C</text>
<text x="434.3" y="46" font-size="12" fill="#f23645">89.697</text>
<text x="477.4" y="46" font-size="12" fill="#f23645" textLength="84.3" lengthAdjust="spacingAndGlyphs">−0.007 (−0.01%)</text>
<text x="18" y="62.8" font-size="12" fill="#b2b5be" textLength="278.6" lengthAdjust="spacingAndGlyphs">VWAP (Session, hlc3, 0, Standard Deviation, 1, 2, 3)</text>
<text x="304" y="62.8" font-size="12" fill="#2962ff">89.747</text>
<g fill="#d1d4dc"><path d="M9.9 916.2H17.5V925.6H13.6V920.2H9.9Z"/><circle cx="21" cy="917.9" r="1.7"/><path d="M24.7 916.2H29.9L26.2 925.6H21.3Z"/></g>
<text x="33" y="925.9" font-size="13" fill="#d1d4dc" stroke="#d1d4dc" stroke-width="0.25" textLength="70.4" lengthAdjust="spacingAndGlyphs">TradingView</text>
</svg></body></html>
